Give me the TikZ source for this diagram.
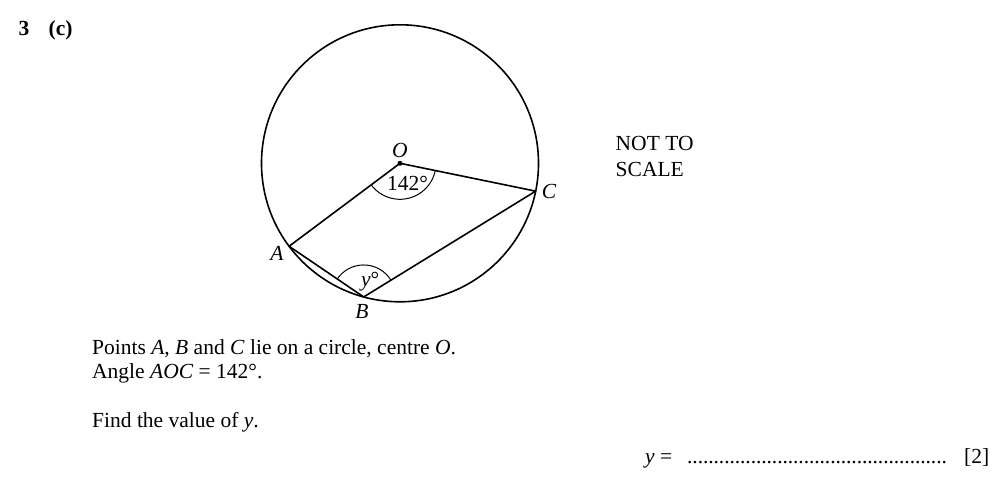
\documentclass[tikz,border=0pt]{standalone}
\usepackage{fontspec}
\setmainfont{Liberation Serif}
\usetikzlibrary{angles,calc}
\tikzset{
  txt/.style={anchor=base west, inner sep=0pt, font=\fontsize{21.5}{26}\selectfont},
  lbl/.style={inner sep=0pt, font=\fontsize{21.5}{26}\selectfont\itshape},
  geo/.style={line width=1.6pt, line join=round, line cap=round},
  ang/.style={draw, line width=1pt, angle radius=#1},
}
\begin{document}
\begin{tikzpicture}[x=1pt,y=1pt]
\useasboundingbox (0,0) rectangle (1004,-484);
% geometry
\coordinate (O) at (400,-163.3);
\path (O) ++(216.8:138.5) coordinate (A);
\path (O) ++(254.8:138.5) coordinate (B);
\path (O) ++(348.4:138.5) coordinate (C);
\draw[geo] (O) circle[radius=138.5];
\draw[geo] (A) -- (O) -- (C) -- (B) -- cycle;
\fill (O) circle[radius=2.5];
\pic[ang=36] {angle = A--O--C};
\pic[ang=32] {angle = C--B--A};
% labels
\node[lbl] (lO) at (400,-150) {O};
\node[lbl] (lA) at (277,-253) {A};
\node[lbl] (lB) at (362,-311) {B};
\node[lbl] (lC) at (549,-191) {C};
\node[txt] (a142) at (387,-190) {142°};
\node[txt] (ay) at (361,-286) {\itshape y\upshape°};
% texts
\node[txt] (q) at (18.5,-35.5) {\bfseries 3};
\node[txt] (qc) at (48.5,-35.5) {\bfseries (c)};
\node[txt] (n1) at (615.5,-151) {NOT TO};
\node[txt] (n2) at (615.5,-176) {SCALE};
\node[txt] (t1) at (92,-354) {Points \textit{A}, \textit{B} and \textit{C} lie on a circle, centre \textit{O}.};
\node[txt] (t2) at (92,-378.5) {Angle \textit{AOC} = 142°.};
\node[txt] (t3) at (92,-427) {Find the value of \textit{y}.};
\node[txt] (ans) at (645,-463) {\textit{y} =};
\node[txt] (dots) at (687,-463) {\hbox to 260pt{\leaders\hbox to 5.3pt{\hss.\hss}\hfill}};
\node[txt] (mk) at (964,-463) {[2]};
\end{tikzpicture}
\end{document}
